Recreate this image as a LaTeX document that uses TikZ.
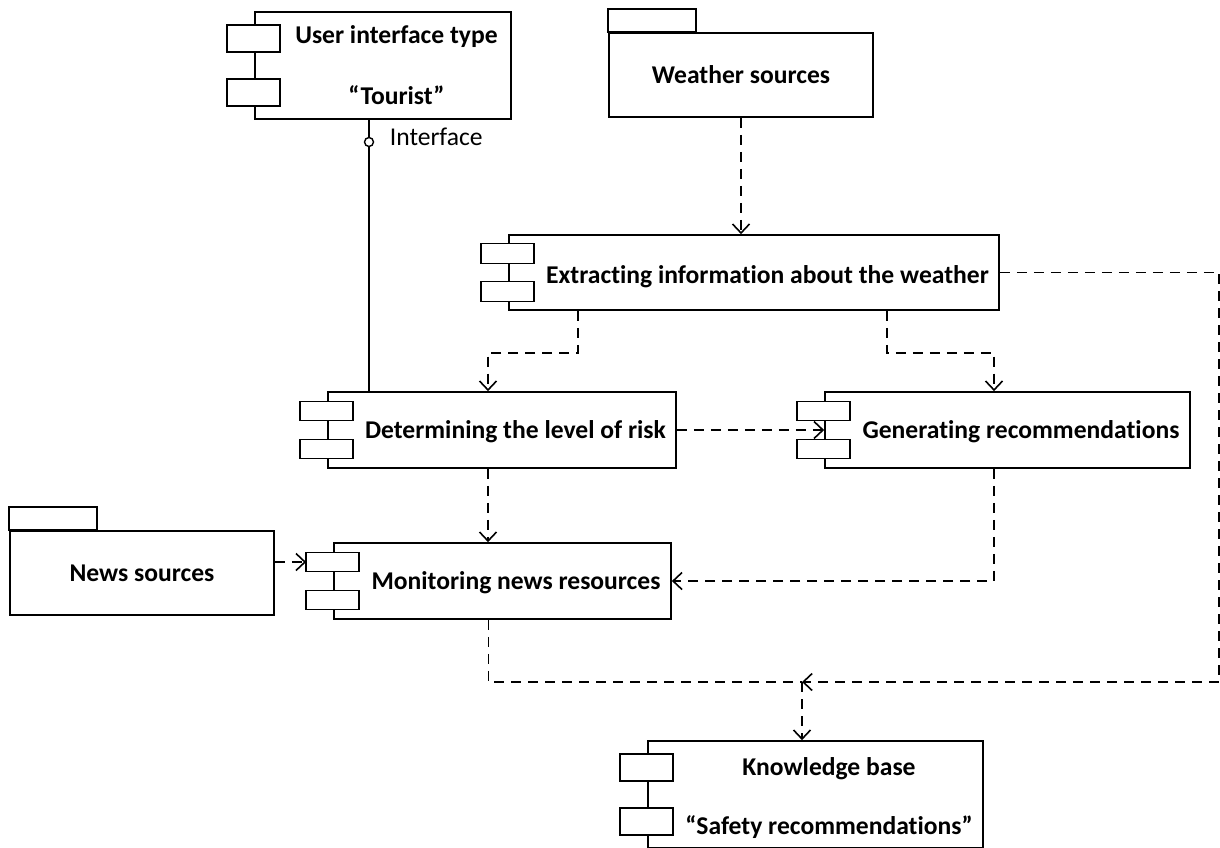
\documentclass[tikz,border=0pt]{standalone}
\usepackage{fontspec}
\setmainfont{Carlito}[Ligatures=NoCommon]
\usetikzlibrary{arrows.meta}

% two small plug rectangles on the left side of a component box
\newcommand{\plugs}[3]{%
    \draw[plug] ([shift={(-27,-#2-#3/2)}]#1.west) rectangle ++(53,#3);
    \draw[plug] ([shift={(-27,#2-#3/2)}]#1.west) rectangle ++(53,#3);
}

\begin{document}
\begin{tikzpicture}[
        x=1pt, y=-1pt,
        line width=1.7pt,
        compbox/.style={rectangle, draw, inner sep=0pt},
        pkgbox/.style={rectangle, draw, inner sep=0pt, minimum width=264, minimum height=84},
        plug/.style={fill=white, line width=1.6pt},
        txt/.style={font=\fontsize{25.6}{30}\selectfont\bfseries, inner sep=0pt, text height=16pt, text depth=0pt},
        dep/.style={dash pattern=on 10pt off 7pt, line width=1.6pt, -{Straight Barb[length=9pt, width=17pt]}},
    ]
        \useasboundingbox (0,0) rectangle (1220,847);
        \clip (0,0) rectangle (1220,847);

        % Packages
        \node[pkgbox] (ws) at (741,75) {};
        \draw (ws.north west) rectangle ++(88,-23);
        \node[txt] (ws-t) at (ws.center) {Weather sources};

        \node[pkgbox] (news) at (142,573) {};
        \draw (news.north west) rectangle ++(88,-23);
        \node[txt] (news-t) at (news.center) {News sources};

        % Components
        \node[compbox, minimum width=256, minimum height=107] (ui) at (383,65.5) {};
        \node[compbox, minimum width=490, minimum height=75] (ext) at (754,272.5) {};
        \node[compbox, minimum width=348, minimum height=76] (det) at (502,430) {};
        \node[compbox, minimum width=365, minimum height=76] (gen) at (1007.5,430) {};
        \node[compbox, minimum width=337, minimum height=76] (mon) at (502.5,581) {};
        \node[compbox, minimum width=335, minimum height=107] (kb) at (815.5,794.5) {};

        \plugs{ui}{27}{27}
        \plugs{ext}{19}{20}
        \plugs{det}{19}{19}
        \plugs{gen}{19}{19}
        \plugs{mon}{19}{19}
        \plugs{kb}{27}{27}

        \node[txt] (ui-t1) at ([shift={(13.5,-30)}]ui.center) {User interface type};
        \node[txt] (ui-t2) at ([shift={(13.5,31)}]ui.center) {“Tourist”};
        \node[txt] (ext-t) at ([shift={(13.5,3)}]ext.center) {Extracting information about the weather};
        \node[txt] (det-t) at ([shift={(13.5,0)}]det.center) {Determining the level of risk};
        \node[txt] (gen-t) at ([shift={(13.5,0)}]gen.center) {Generating recommendations};
        \node[txt] (mon-t) at ([shift={(13.5,0)}]mon.center) {Monitoring news resources};
        \node[txt] (kb-t1) at ([shift={(13.5,-27.5)}]kb.center) {Knowledge base};
        \node[txt] (kb-t2) at ([shift={(13.5,32)}]kb.center) {“Safety recommendations”};

        % Interface
        \node[circle, draw, fill=white, minimum size=9pt, inner sep=0pt, line width=1.4pt] (ifc) at (369,142) {};
        \draw ([xshift=-14]ui.south) -- (ifc.north);
        \draw (ifc.south) -- (ifc.south |- det.north);
        \node[txt, font=\fontsize{25.6}{30}\selectfont, anchor=west] (ifc-lbl) at (389,137) {Interface};

        % Dependencies
        \coordinate (mp) at ([shift={(-27,-19)}]mon.west);
        \coordinate (jn) at (802,682);
        \coordinate (rc) at (1219,682);

        \draw[dep] (ws.south) -- (ws.south |- ext.north);
        \draw[dep] ([xshift=70]ext.south west) -- ++(0,42) -| ([xshift=-14]det.north);
        \draw[dep] ([xshift=-113]ext.south east) -- ++(0,42) -| ([xshift=-13.5]gen.north);
        \draw[dep] (det.east) -- (gen.west);
        \draw[dep] ([xshift=-14]det.south) -- ([xshift=-14]det.south |- mon.north);
        \draw[dep] ([xshift=-13.5]gen.south) |- (mon.east);
        \draw[dep] (news.east |- mp) -- (mp);
        \draw[dep, -] ([xshift=-14]mon.south) |- (jn);
        \draw[dep] (ext.east) -| (rc) -- (jn);
        \draw[dep] (jn) -- (jn |- kb.north);

    \end{tikzpicture}
\end{document}
